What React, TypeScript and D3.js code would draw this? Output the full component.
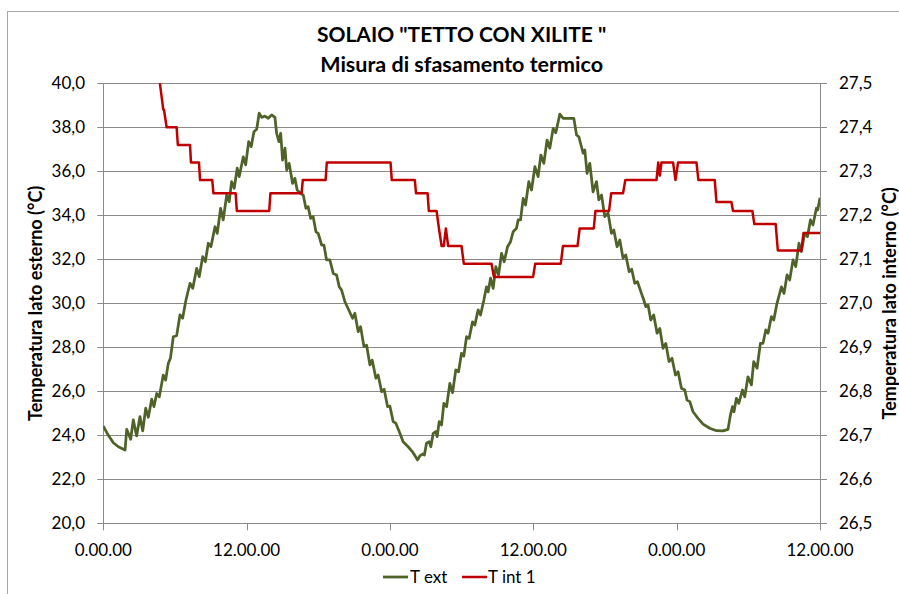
import React from "react";
import * as d3 from "d3";

const title1 = 'SOLAIO "TETTO CON XILITE "';
const title2 = "Misura di sfasamento termico";
const leftTitle = "Temperatura lato esterno (°C)";
const rightTitle = "Temperatura lato interno (°C)";
const seriesNames = ["T ext", "T int 1"];

const xTickHours = [0, 12, 24, 36, 48, 60];
const xTickLabels = ["0.00.00", "12.00.00", "0.00.00", "12.00.00", "0.00.00", "12.00.00"];
const leftTicks = [20, 22, 24, 26, 28, 30, 32, 34, 36, 38, 40];
const rightTicks = [26.5, 26.6, 26.7, 26.8, 26.9, 27.0, 27.1, 27.2, 27.3, 27.4, 27.5];

const tExtHours = [
  0, 0.42, 0.84, 1.26, 1.82, 1.96, 2.29, 2.51, 2.79, 3.07, 3.3, 3.55, 3.77, 4.05, 4.24, 4.47, 4.69,
  5.02, 5.22, 5.44, 5.62, 5.86, 6.14, 6.42, 6.64, 6.92, 7.26, 7.49, 7.82, 8.03, 8.32, 8.54, 8.79,
  9.01, 9.35, 9.54, 9.82, 10.04, 10.33, 10.54, 10.74, 10.96, 11.21, 11.38, 11.72, 11.92, 12.17,
  12.38, 12.61, 12.84, 13.05, 13.26, 13.53, 13.81, 14.09, 14.37, 14.51, 14.7, 14.85, 15.01, 15.21,
  15.35, 15.56, 15.85, 16.04, 16.23, 16.52, 16.74, 16.96, 17.15, 17.36, 17.57, 17.8, 17.99, 18.28,
  18.47, 18.69, 18.97, 19.25, 19.53, 19.75, 19.95, 20.23, 20.87, 21.06, 21.34, 21.54, 21.82, 22.04,
  22.32, 22.51, 22.82, 23.01, 23.3, 23.51, 23.8, 23.99, 24.27, 24.49, 24.83, 25.1, 25.52, 25.94,
  26.31, 26.5, 26.73, 26.88, 27.06, 27.28, 27.42, 27.62, 27.84, 27.95, 28.12, 28.32, 28.51, 28.74,
  29.01, 29.24, 29.51, 29.74, 29.99, 30.18, 30.41, 30.63, 30.91, 31.1, 31.38, 31.58, 31.86, 32.08,
  32.22, 32.42, 32.64, 32.86, 33.09, 33.34, 33.56, 33.84, 34.09, 34.31, 34.59, 34.73, 34.93, 35.15,
  35.35, 35.62, 35.85, 36.13, 36.4, 36.63, 36.88, 37.15, 37.38, 37.66, 37.88, 38.22, 38.49, 39.2,
  39.39, 39.62, 39.81, 40.17, 40.31, 40.5, 40.73, 41.0, 41.29, 41.48, 41.71, 41.98, 42.26, 42.54,
  42.74, 43.01, 43.24, 43.51, 43.74, 44.02, 44.24, 44.49, 44.72, 45.05, 45.25, 45.41, 45.61, 45.83,
  46.08, 46.36, 46.59, 46.86, 47.09, 47.36, 47.61, 47.9, 48.12, 48.4, 48.68, 48.87, 49.1, 49.37,
  49.79, 50.21, 50.77, 51.33, 51.88, 52.3, 52.5, 52.67, 52.8, 53.0, 53.2, 53.51, 53.7, 53.97, 54.26,
  54.45, 54.73, 55.01, 55.23, 55.46, 55.65, 55.93, 56.13, 56.4, 56.77, 56.99, 57.24, 57.46, 57.74,
  57.97, 58.24, 58.44, 58.72, 58.95, 59.2, 59.41, 59.7, 59.81, 60,
];
const tExtValues = [
  24.42, 24.0, 23.66, 23.48, 23.33, 24.27, 23.82, 24.7, 23.97, 24.85, 24.2, 25.23, 24.82, 25.64, 25.3,
  25.9, 25.75, 26.74, 26.51, 27.27, 27.5, 28.48, 28.53, 29.47, 29.32, 30.15, 30.91, 30.68, 31.59,
  31.21, 32.12, 31.89, 32.73, 32.57, 33.48, 33.18, 34.32, 33.79, 34.92, 34.62, 35.53, 35.23, 36.14,
  35.76, 36.66, 36.29, 37.35, 37.12, 37.8, 37.91, 38.64, 38.45, 38.51, 38.41, 38.56, 38.45, 37.73,
  37.35, 37.73, 36.51, 37.05, 36.06, 36.36, 35.45, 35.68, 35.15, 35.0, 34.92, 34.32, 34.39, 33.86,
  33.94, 33.25, 33.18, 32.65, 32.65, 31.97, 31.97, 31.36, 31.29, 30.75, 30.6, 30.07, 29.32, 29.55,
  28.71, 28.94, 28.03, 28.1, 27.2, 27.42, 26.59, 26.74, 25.98, 26.09, 25.3, 25.33, 24.62, 24.55,
  24.09, 23.71, 23.48, 23.21, 22.88, 23.06, 23.15, 23.1, 23.64, 23.71, 23.48, 24.09, 24.17, 23.94,
  24.62, 24.47, 25.45, 25.3, 26.36, 25.94, 26.97, 26.89, 27.73, 27.6, 28.48, 28.41, 29.16, 29.01,
  29.7, 29.47, 30.15, 30.75, 30.52, 31.14, 30.68, 31.67, 31.29, 32.27, 31.89, 32.57, 32.8, 33.25,
  33.41, 33.79, 33.79, 34.77, 34.47, 35.53, 35.15, 36.21, 35.76, 36.74, 36.36, 37.42, 37.05, 37.95,
  37.75, 38.6, 38.41, 38.41, 38.41, 37.65, 37.57, 36.82, 36.97, 35.91, 36.36, 35.07, 35.53, 34.7,
  34.92, 33.94, 34.09, 33.18, 33.33, 32.57, 32.88, 32.05, 32.2, 31.44, 31.55, 30.91, 30.98, 30.45,
  30.15, 29.85, 29.92, 29.24, 29.47, 28.64, 28.86, 27.95, 28.18, 27.35, 27.5, 26.74, 26.89, 26.14,
  26.06, 25.6, 25.53, 25.07, 24.77, 24.51, 24.32, 24.21, 24.2, 24.27, 24.92, 25.3, 25.07, 25.68,
  25.45, 26.06, 25.75, 26.66, 26.29, 27.35, 27.05, 28.18, 28.18, 28.79, 28.64, 29.39, 29.24, 30.0,
  30.75, 30.45, 31.29, 31.06, 31.97, 31.67, 32.73, 32.35, 33.18, 33.03, 33.79, 33.56, 34.32, 34.24,
  34.8,
];

const tIntHours = [
  4.55, 4.74, 5.02, 5.08, 5.3, 6.14, 6.24, 7.26, 7.34, 8.01, 8.1, 9.12, 9.22, 11.08, 11.18, 13.89,
  13.99, 16.6, 16.7, 18.61, 18.71, 24.05, 24.15, 26.08, 26.18, 27.15, 27.25, 27.9, 28.1, 28.32, 28.5,
  28.68, 28.87, 29.99, 30.18, 32.5, 32.7, 35.98, 36.16, 38.3, 38.48, 39.7, 39.88, 41.06, 41.2, 42.34,
  42.52, 43.51, 43.7, 46.31, 46.46, 46.59, 46.73, 47.7, 47.9, 48.12, 49.66, 49.82, 51.19, 51.33,
  52.58, 52.72, 54.34, 54.5, 56.29, 56.47, 58.44, 58.62, 60,
];
const tIntValues = [
  27.54, 27.5, 27.44, 27.44, 27.4, 27.4, 27.36, 27.36, 27.32, 27.32, 27.28, 27.28, 27.25, 27.25,
  27.21, 27.21, 27.25, 27.25, 27.28, 27.28, 27.32, 27.32, 27.28, 27.28, 27.25, 27.25, 27.21, 27.21,
  27.17, 27.13, 27.13, 27.17, 27.13, 27.13, 27.09, 27.09, 27.06, 27.06, 27.09, 27.09, 27.13, 27.13,
  27.17, 27.17, 27.21, 27.21, 27.25, 27.25, 27.28, 27.28, 27.32, 27.29, 27.32, 27.32, 27.28, 27.32,
  27.32, 27.28, 27.28, 27.23, 27.23, 27.21, 27.21, 27.18, 27.18, 27.12, 27.12, 27.16, 27.16,
];

const W = 899;
const H = 594;
const plot = { left: 103.3, right: 820, top: 83.3, bottom: 523.3 };
const FONT = "Lato, 'Open Sans', sans-serif";
const GREEN = "#4F6228";
const RED = "#C00000";
const GRID = "#8a8a8a";

export default function App() {
  const x = d3.scaleLinear().domain([0, 60]).range([plot.left, plot.right]);
  const yL = d3.scaleLinear().domain([20, 40]).range([plot.bottom, plot.top]);
  const yR = d3.scaleLinear().domain([26.5, 27.5]).range([plot.bottom, plot.top]);

  const extData = tExtHours.map((h, i) => [h, tExtValues[i]] as [number, number]);
  const intData = tIntHours.map((h, i) => [h, tIntValues[i]] as [number, number]);

  const extLine = d3
    .line<[number, number]>()
    .x((d) => x(d[0]))
    .y((d) => yL(d[1]))
    .curve(d3.curveLinear);
  const intLine = d3
    .line<[number, number]>()
    .x((d) => x(d[0]))
    .y((d) => yR(d[1]))
    .curve(d3.curveLinear);

  const cx = (plot.left + plot.right) / 2;
  const cy = (plot.top + plot.bottom) / 2;

  return (
    <svg
      width={W}
      height={H}
      style={{ position: "absolute", left: 0, top: 0, background: "#fff" }}
      fontFamily={FONT}
    >
      <rect x={0} y={0} width={W} height={H} fill="#fff" />
      <rect x={7.5} y={11.5} width={W + 20} height={H + 20} fill="none" stroke="#a6a6a6" strokeWidth={1} />
      <defs>
        <clipPath id="plotClip">
          <rect x={plot.left} y={plot.top} width={plot.right - plot.left} height={plot.bottom - plot.top} />
        </clipPath>
      </defs>

      {/* gridlines */}
      {leftTicks.map((t) => (
        <line
          key={"g" + t}
          x1={plot.left}
          x2={plot.right}
          y1={Math.round(yL(t)) + 0.5}
          y2={Math.round(yL(t)) + 0.5}
          stroke={GRID}
          strokeWidth={1}
        />
      ))}

      {/* axes */}
      <line x1={Math.round(plot.left) + 0.5} x2={Math.round(plot.left) + 0.5} y1={plot.top} y2={plot.bottom} stroke={GRID} />
      <line x1={Math.round(plot.right) + 0.5} x2={Math.round(plot.right) + 0.5} y1={plot.top} y2={plot.bottom} stroke={GRID} />

      {leftTicks.map((t) => (
        <g key={"l" + t}>
          <line
            x1={plot.left - 6}
            x2={plot.left}
            y1={Math.round(yL(t)) + 0.5}
            y2={Math.round(yL(t)) + 0.5}
            stroke={GRID}
          />
          <text x={85} y={yL(t) + 6} textAnchor="end" fontSize={17} fill="#000">
            {t.toFixed(1).replace(".", ",")}
          </text>
        </g>
      ))}
      {rightTicks.map((t) => (
        <g key={"r" + t}>
          <line
            x1={plot.right}
            x2={plot.right + 7}
            y1={Math.round(yR(t)) + 0.5}
            y2={Math.round(yR(t)) + 0.5}
            stroke={GRID}
          />
          <text x={839} y={yR(t) + 6} textAnchor="start" fontSize={17} fill="#000">
            {t.toFixed(1).replace(".", ",")}
          </text>
        </g>
      ))}
      {xTickHours.map((h, i) => (
        <g key={"x" + i}>
          <line
            x1={Math.round(x(h)) + 0.5}
            x2={Math.round(x(h)) + 0.5}
            y1={plot.bottom}
            y2={plot.bottom + 7}
            stroke={GRID}
          />
          <text x={x(h)} y={556} textAnchor="middle" fontSize={17} fill="#000">
            {xTickLabels[i]}
          </text>
        </g>
      ))}

      {/* series */}
      <g clipPath="url(#plotClip)">
        <path d={extLine(extData) || ""} fill="none" stroke={GREEN} strokeWidth={2.75} strokeLinejoin="round" />
        <path d={intLine(intData) || ""} fill="none" stroke={RED} strokeWidth={2.5} strokeLinejoin="round" />
      </g>

      {/* titles */}
      <text x={cx} y={42} textAnchor="middle" fontSize={21} fontWeight="bold" fill="#000">
        {title1}
      </text>
      <text x={cx} y={71.5} textAnchor="middle" fontSize={21.5} fontWeight="bold" fill="#000">
        {title2}
      </text>
      <text
        transform={`translate(42,${cy}) rotate(-90)`}
        textAnchor="middle"
        fontSize={18}
        fontWeight="bold"
        fill="#000"
      >
        {leftTitle}
      </text>
      <text
        transform={`translate(896,${cy}) rotate(-90)`}
        textAnchor="middle"
        fontSize={18}
        fontWeight="bold"
        fill="#000"
      >
        {rightTitle}
      </text>

      {/* legend */}
      <line x1={383} x2={408} y1={577} y2={577} stroke={GREEN} strokeWidth={2.75} />
      <text x={410} y={583} fontSize={17} fill="#000">
        {seriesNames[0]}
      </text>
      <line x1={462} x2={487} y1={577} y2={577} stroke={RED} strokeWidth={2.5} />
      <text x={488} y={583} fontSize={17} fill="#000">
        {seriesNames[1]}
      </text>
    </svg>
  );
}
